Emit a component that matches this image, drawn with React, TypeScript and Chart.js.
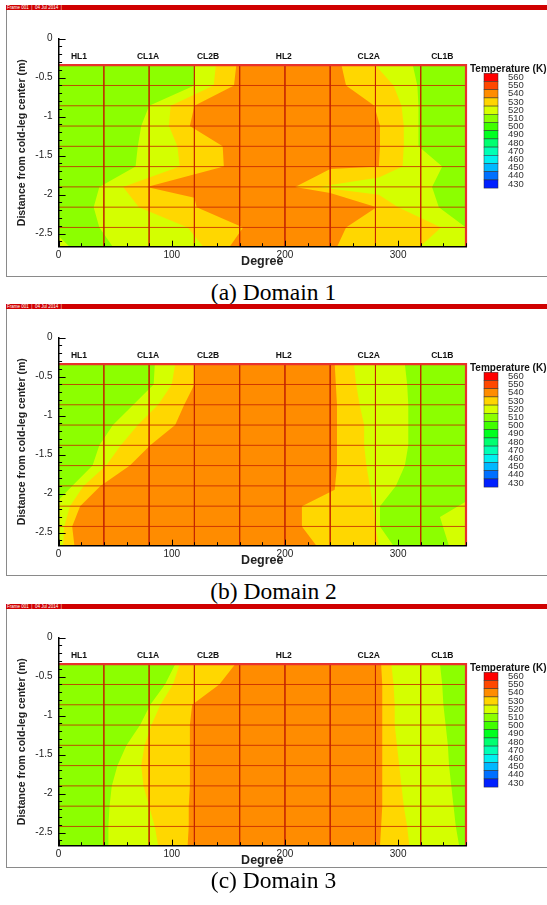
import React, { useEffect, useRef } from 'react';
import { Chart, registerables } from 'chart.js';
Chart.register(...registerables);

type P = [number, number];

// mesh rows / columns
const meshRows = [-0.6, -0.86, -1.12, -1.38, -1.64, -1.9, -2.16, -2.42];
const meshCols = [40, 80, 120, 160, 200, 240, 280, 320];
const dataTop = -0.34;
const dataBottom = -2.67;

const xMajorTicks = [0, 100, 200, 300];
const xTickLabels = ['0', '100', '200', '300'];
const yMajorTicks = [0, -0.5, -1, -1.5, -2, -2.5];
const yTickLabels = ['0', '-0.5', '-1', '-1.5', '-2', '-2.5'];

const legNames = ['HL1', 'CL1A', 'CL2B', 'HL2', 'CL2A', 'CL1B'];
const legDegrees = [18, 79, 132, 199, 274, 339];

const tempLevels = [560, 550, 540, 530, 520, 510, 500, 490, 480, 470, 460, 450, 440, 430];
const tempColors = ['#FF0000', '#FF4800', '#FF8C00', '#FFD400', '#D8FF00', '#8CFF00', '#40FF00',
  '#00FF20', '#00FF70', '#00FFB4', '#00F0F0', '#00B8FF', '#0070FF', '#0020FF'];

const C510 = '#8CFF00';
const C520 = '#D4FF00';
const C530 = '#FFD700';
const C540 = '#FF8C00';

const fullRect: P[] = [[0, -0.34], [360, -0.34], [360, -2.67], [0, -2.67]];

// ---------- Domain 1 ----------
const d1GreenLeft: P[] = [[0, -0.34], [120, -0.34], [120, -0.6], [80, -0.86], [73, -1.12], [70, -1.38], [68, -1.64],
  [36, -1.9], [31, -2.16], [36, -2.42], [48, -2.67], [10, -2.67], [0, -2.53]];
const d1GreenRight: P[] = [[313, -0.34], [317, -0.6], [318, -0.86], [318, -1.12], [318, -1.38], [339, -1.64],
  [330, -1.9], [336, -2.16], [360, -2.42], [360, -0.34]];
const d1Gold: P[] = [[139, -0.34], [137, -0.6], [99, -0.86], [97.5, -1.12], [105, -1.38], [107, -1.64], [57, -1.9],
  [71, -2.16], [114, -2.42], [128, -2.67], [319, -2.67], [338, -2.42], [300, -2.16], [283, -2.0], [229, -1.9],
  [283, -1.78], [304, -1.64], [305, -1.38], [305, -1.12], [303, -0.86], [296, -0.6], [280, -0.34]];
const d1Orange: P[] = [[157, -0.34], [155, -0.6], [120, -0.86], [116, -1.12], [145, -1.38], [146, -1.64], [78, -1.9],
  [120, -2.04], [122, -2.16], [163, -2.42], [151, -2.67], [246, -2.67], [254, -2.42], [281, -2.16], [240, -1.98],
  [209, -1.9], [240, -1.67], [283, -1.64], [284, -1.38], [284, -1.12], [279, -0.86], [254, -0.6], [250, -0.34]];

// ---------- Domain 2 ----------
const d2GreenLeft: P[] = [[0, -0.34], [85, -0.34], [84, -0.6], [66, -0.86], [48, -1.12], [36, -1.38], [30, -1.64],
  [12, -1.9], [0, -2.08]];
const d2GreenRight: P[] = [[306, -0.34], [308, -0.6], [309, -0.86], [309, -1.12], [309, -1.38], [306, -1.64],
  [298, -1.9], [284, -2.16], [284, -2.42], [296, -2.67], [345, -2.67], [337, -2.3], [360, -2.1], [360, -0.34]];
const d2Gold: P[] = [[103, -0.34], [100, -0.6], [88, -0.86], [70, -1.12], [55, -1.38], [42, -1.64], [22, -1.9],
  [10, -2.16], [5, -2.42], [4, -2.67], [283, -2.67], [280, -2.42], [278, -2.16], [275, -1.9], [272, -1.64],
  [270, -1.38], [270, -1.12], [266, -0.86], [263, -0.6], [261, -0.34]];
const d2Orange: P[] = [[120, -0.34], [120, -0.6], [111, -0.86], [103, -1.12], [81, -1.38], [63, -1.64], [37, -1.9],
  [19, -2.16], [12, -2.42], [14, -2.67], [228, -2.67], [215, -2.42], [215, -2.16], [244, -1.95], [246, -1.64],
  [246, -1.38], [246, -1.12], [246, -0.86], [245, -0.6], [244, -0.34]];

// ---------- Domain 3 ----------
const d3GreenLeft: P[] = [[0, -0.34], [103, -0.34], [94, -0.6], [81, -0.86], [72, -1.12], [60, -1.38], [52, -1.64],
  [47, -1.9], [45, -2.16], [44, -2.42], [44, -2.67], [0, -2.67]];
const d3GreenRight: P[] = [[337, -0.34], [339, -0.6], [340, -0.86], [342, -1.12], [344, -1.38], [345, -1.64],
  [347, -1.9], [349, -2.16], [351, -2.42], [354, -2.67], [360, -2.67], [360, -0.34]];
const d3Gold: P[] = [[107, -0.34], [101, -0.6], [90, -0.86], [82, -1.12], [76, -1.38], [73, -1.64], [75, -1.9],
  [80, -2.16], [85, -2.42], [88, -2.67], [310, -2.67], [308, -2.42], [305, -2.16], [303, -1.9], [301, -1.64],
  [299, -1.38], [297, -1.12], [297, -0.86], [296, -0.6], [294, -0.34]];
const d3Orange: P[] = [[156, -0.34], [142, -0.6], [118, -0.86], [116, -1.12], [116, -1.38], [116, -1.64], [116, -1.9],
  [115, -2.16], [115, -2.42], [114, -2.67], [284, -2.67], [285, -2.42], [286, -2.16], [286, -1.9], [286, -1.64],
  [286, -1.38], [286, -1.12], [286, -0.86], [286, -0.6], [285, -0.34]];

type Poly = { pts: P[]; color: string };

const domain1: Poly[] = [
  { pts: fullRect, color: C520 }, { pts: d1GreenLeft, color: C510 }, { pts: d1GreenRight, color: C510 },
  { pts: d1Gold, color: C530 }, { pts: d1Orange, color: C540 },
];
const domain2: Poly[] = [
  { pts: fullRect, color: C520 }, { pts: d2GreenLeft, color: C510 }, { pts: d2GreenRight, color: C510 },
  { pts: d2Gold, color: C530 }, { pts: d2Orange, color: C540 },
];
const domain3: Poly[] = [
  { pts: fullRect, color: C520 }, { pts: d3GreenLeft, color: C510 }, { pts: d3GreenRight, color: C510 },
  { pts: d3Gold, color: C530 }, { pts: d3Orange, color: C540 },
];

const SANS = "'Liberation Sans', Arial, Helvetica, sans-serif";
const CANVAS_W = 547;
const CANVAS_H = 275;
const AREA_TOP = 38.7;
const AREA_BOTTOM = 246.7;
const AREA_LEFT = 58.6;
const AREA_RIGHT = 466;

const decorPlugin = {
  id: 'decor',
  afterDraw(chart: any) {
    const { ctx, chartArea, scales } = chart;
    const x = scales.x;
    const y = scales.y;
    ctx.save();
    // inward ticks
    ctx.strokeStyle = '#000';
    ctx.lineWidth = 1;
    ctx.beginPath();
    for (let v = 0; v >= -2.65; v -= 0.1) {
      const py = Math.round(y.getPixelForValue(v)) + 0.5;
      const major = Math.abs(v * 2 - Math.round(v * 2)) < 1e-6;
      ctx.moveTo(chartArea.left, py);
      ctx.lineTo(chartArea.left + (major ? 7 : 3.5), py);
    }
    for (let v = 0; v <= 360; v += 20) {
      const px = Math.round(x.getPixelForValue(v)) + 0.5;
      const major = v % 100 === 0;
      ctx.moveTo(px, chartArea.bottom);
      ctx.lineTo(px, chartArea.bottom - (major ? 6 : 3.5));
    }
    ctx.stroke();
    // leg labels
    ctx.fillStyle = '#111';
    ctx.font = `bold 8.5px ${SANS}`;
    ctx.textAlign = 'center';
    ctx.textBaseline = 'middle';
    legNames.forEach((n, i) => {
      ctx.fillText(n, x.getPixelForValue(legDegrees[i]), y.getPixelForValue(-0.23));
    });
    // colour legend
    ctx.textAlign = 'left';
    ctx.font = `bold 10px ${SANS}`;
    ctx.fillText('Temperature (K)', 470, 69);
    const sx = 484, sw = 14, sy = 73.3, sh = 8.2;
    ctx.font = `9.5px ${SANS}`;
    ctx.fillStyle = '#333';
    tempLevels.forEach((lv, i) => {
      ctx.fillStyle = tempColors[i];
      ctx.fillRect(sx, sy + i * sh, sw, sh);
      ctx.strokeStyle = 'rgba(40,40,40,0.8)';
      ctx.lineWidth = 0.6;
      ctx.strokeRect(sx, sy + i * sh, sw, sh);
      ctx.fillStyle = '#333';
      ctx.fillText(String(lv), 508, sy + (i + 0.5) * sh);
    });
    ctx.restore();
  },
};

function Panel({ top, polys, caption, frameBottom, captionY }: { top: number; polys: Poly[]; caption: string; frameBottom: number; captionY: number }) {
  const ref = useRef<HTMLCanvasElement>(null);
  useEffect(() => {
    const datasets: any[] = [];
    polys.forEach((p, i) => {
      datasets.push({
        data: p.pts.map(([px, py]) => ({ x: px, y: py })),
        showLine: true, fill: 'shape', backgroundColor: p.color, borderWidth: 0,
        pointRadius: 0, tension: 0, order: 100 - i,
      });
    });
    const meshPts: any[] = [];
    meshCols.forEach((c) => { meshPts.push({ x: c, y: dataTop }, { x: c, y: dataBottom }, { x: null, y: null }); });
    meshRows.forEach((r) => { meshPts.push({ x: 0, y: r }, { x: 360, y: r }, { x: null, y: null }); });
    datasets.push({ data: meshPts, showLine: true, fill: false, borderColor: 'rgba(195,35,0,0.8)', borderWidth: 1, pointRadius: 0, order: 2 });
    datasets.push({
      data: [{ x: 0, y: dataTop }, { x: 360, y: dataTop }, { x: 360, y: dataBottom }],
      showLine: true, fill: false, borderColor: '#E8322C', borderWidth: 2.2, pointRadius: 0, order: 1, clip: 6,
    });
    const chart = new Chart(ref.current as HTMLCanvasElement, {
      type: 'scatter',
      data: { datasets },
      options: {
        animation: false,
        responsive: false,
        events: [],
        layout: { padding: { top: AREA_TOP, right: CANVAS_W - AREA_RIGHT, left: 0, bottom: 0 } },
        scales: {
          x: {
            type: 'linear', min: 0, max: 360,
            afterBuildTicks: (s: any) => { s.ticks = xMajorTicks.map((v) => ({ value: v })); },
            afterFit: (s: any) => { s.height = CANVAS_H - AREA_BOTTOM; },
            grid: { display: false, drawTicks: false },
            border: { display: true, color: '#000', width: 1.5, z: 1 },
            ticks: {
              padding: 2.5, color: '#222', font: { family: SANS, size: 10 }, maxRotation: 0, autoSkip: false,
              callback: (v: any) => xTickLabels[xMajorTicks.indexOf(Number(v))],
            },
            title: { display: true, text: 'Degree', color: '#222', font: { family: SANS, size: 12.5, weight: 'bold' }, padding: { top: 0, bottom: 5.5 } },
          },
          y: {
            type: 'linear', min: -2.667, max: 0,
            afterBuildTicks: (s: any) => { s.ticks = yMajorTicks.map((v) => ({ value: v })); },
            afterFit: (s: any) => { s.width = AREA_LEFT; },
            grid: { display: false, drawTicks: false },
            border: { display: true, color: '#000', width: 1.5, z: 1 },
            ticks: {
              padding: 6, color: '#222', font: { family: SANS, size: 10 }, autoSkip: false,
              callback: (v: any) => yTickLabels[yMajorTicks.indexOf(Number(v))],
            },
            title: { display: true, text: 'Distance from cold-leg center (m)', color: '#222', font: { family: SANS, size: 10.5, weight: 'bold' }, padding: { top: 15.5, bottom: 0 } },
          },
        },
        plugins: { legend: { display: false }, tooltip: { enabled: false } },
      } as any,
      plugins: [decorPlugin],
    });
    return () => chart.destroy();
  }, []);
  return (
    <>
      <div style={{ position: 'absolute', left: 6, top: top + 5, width: 545, height: frameBottom - top - 5, borderLeft: '1px solid #8a8a8a', borderBottom: '1px solid #8a8a8a', boxSizing: 'border-box' }} />
      <div style={{ position: 'absolute', left: 6, top: top + 5, width: 545, height: 5, background: '#D00000', color: '#fff', font: `4.5px ${SANS}`, lineHeight: '5px', whiteSpace: 'pre', paddingLeft: 1 }}>{'Frame 001  |  04 Jul 2014  |'}</div>
      <canvas ref={ref} width={CANVAS_W} height={CANVAS_H} style={{ position: 'absolute', left: 0, top, width: CANVAS_W, height: CANVAS_H }} />
      <div style={{ position: 'absolute', left: 0, top: captionY - 14, width: CANVAS_W, textAlign: 'center', font: "23.5px 'Liberation Serif', 'Times New Roman', serif", lineHeight: '28px', color: '#000' }}>{caption}</div>
    </>
  );
}

export default function App() {
  return (
    <div style={{ position: 'absolute', left: 0, top: 0, width: 547, height: 905, overflow: 'hidden', background: '#fff' }}>
      <Panel top={0} polys={domain1} caption="(a) Domain 1" frameBottom={277} captionY={292} />
      <Panel top={299} polys={domain2} caption="(b) Domain 2" frameBottom={576} captionY={591} />
      <Panel top={599} polys={domain3} caption="(c) Domain 3" frameBottom={868} captionY={880} />
    </div>
  );
}
